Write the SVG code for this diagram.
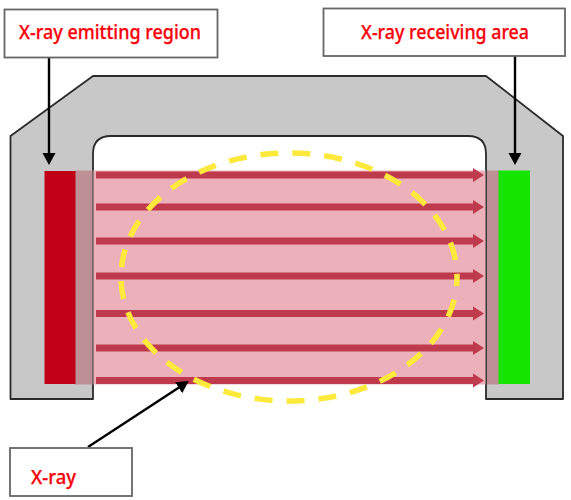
<svg xmlns="http://www.w3.org/2000/svg" width="571" height="500" viewBox="0 0 571 500">
<style>
.box{fill:#fff;stroke:#666;stroke-width:1.800}
.lbl{font-family:"Noto Sans","Liberation Sans",sans-serif;font-size:20px;font-weight:500;fill:#fb0007;stroke:#fb0007;stroke-width:.25}
.ray{stroke:#bf3a4c;stroke-width:7;fill:none;marker-end:url(#rayhead)}
.lead{stroke:#000;stroke-width:2.400;fill:none;marker-end:url(#leadhead)}
</style>
<defs>
<marker id="rayhead" markerUnits="userSpaceOnUse" markerWidth="13" markerHeight="15" refX="3" refY="7.500" orient="auto"><path d="M0 .5L11 7.500L0 14.500Z" fill="#bf3a4c"/></marker>
<marker id="leadhead" markerUnits="userSpaceOnUse" markerWidth="14" markerHeight="14" refX="4" refY="7" orient="auto"><path d="M0 .5L12 7L0 13.500Z" fill="#000"/></marker>
</defs>
<rect width="571" height="500" fill="#fff"/>
<g id="housing"><path d="M10.500 136L93 76H486L563 136V399H486V154Q486 136 468 136H111Q93 136 93 154V399H10.500Z" fill="#c8c8c8" stroke="#2a2a2a" stroke-width="1.800" stroke-linejoin="round"/></g>
<g id="beam"><rect x="93.500" y="170.500" width="392" height="214" fill="#ebb0b9"/><rect x="75" y="170.500" width="17.500" height="214" fill="#bd9096"/><rect x="487" y="170.500" width="12" height="214" fill="#bd9096"/></g>
<g id="emitter"><rect x="44.500" y="171" width="31" height="213" fill="#bf0016"/></g>
<g id="receiver"><rect x="498.500" y="170.500" width="31.500" height="213.500" fill="#15e400"/></g>
<g id="connectors">
<path class="ray" d="M96 175H476"/>
<path class="ray" d="M96 207H476"/>
<path class="ray" d="M96 241H476"/>
<path class="ray" d="M96 276H476"/>
<path class="ray" d="M96 313.500H476"/>
<path class="ray" d="M96 348H476"/>
<path class="ray" d="M96 380.500H476"/>
</g>
<g id="target"><ellipse cx="289" cy="277" rx="168" ry="124" fill="none" stroke="#fde93c" stroke-width="5.500" stroke-dasharray="18 14" stroke-dashoffset="9"/></g>
<g id="leaders">
<path class="lead" d="M49 57V157"/>
<path class="lead" d="M515 56V157"/>
<path class="lead" d="M88 447L182 385.500"/>
</g>
<g id="label-emitting"><rect class="box" x="4.500" y="9.500" width="213" height="48"/><text class="lbl" x="19" y="39" textLength="182" lengthAdjust="spacingAndGlyphs">X-ray emitting region</text></g>
<g id="label-receiving"><rect class="box" x="323.500" y="8.500" width="241.500" height="47.500"/><text class="lbl" x="361" y="39" textLength="168" lengthAdjust="spacingAndGlyphs">X-ray receiving area</text></g>
<g id="label-xray"><rect class="box" x="10" y="448" width="122" height="48"/><text class="lbl" x="31" y="484" textLength="45" lengthAdjust="spacingAndGlyphs">X-ray</text></g>
</svg>
